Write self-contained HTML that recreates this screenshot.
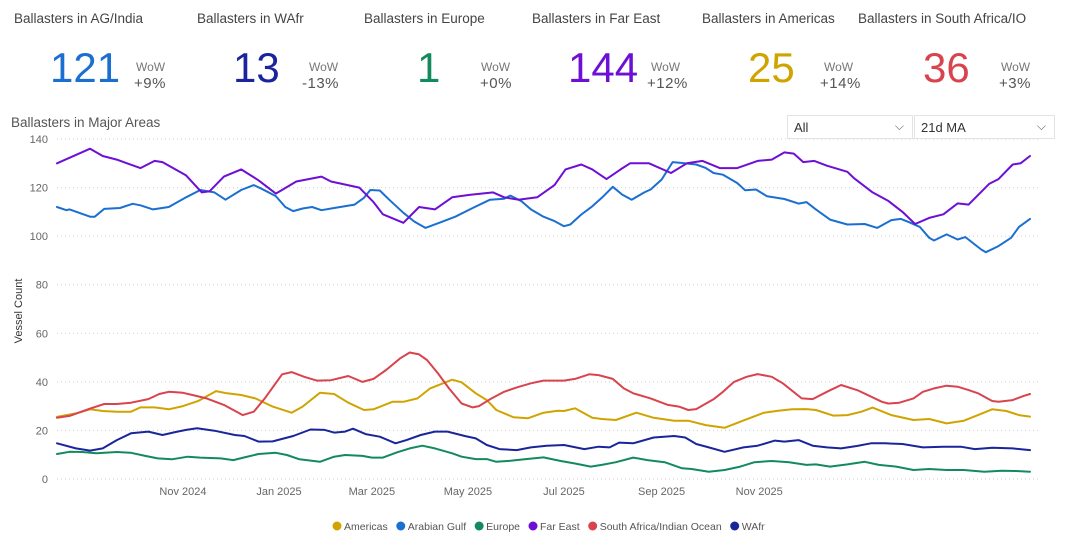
<!DOCTYPE html>
<html><head><meta charset="utf-8"><style>
body{margin:0;width:1070px;height:557px;background:#fff;font-family:"Liberation Sans",sans-serif;overflow:hidden;position:relative}
.kt{position:absolute;top:11px;font-size:13.5px;color:#444;white-space:nowrap}
.kv{position:absolute;top:44px;font-size:42px;line-height:48px;white-space:nowrap}
.kw{position:absolute;top:60px;font-size:12px;color:#777;line-height:14px}
.kp{position:absolute;top:75px;font-size:15px;color:#555;line-height:18px;letter-spacing:0.5px}
.dd{position:absolute;top:115px;height:24px;border:1px solid #e3e3e3;font-size:13px;color:#333;box-sizing:border-box;padding:4px 6px}
.dd span.ch{position:absolute;right:8px;top:3px;color:#666;font-size:12px}
</style></head><body>
<div class="kt" style="left:14px">Ballasters in AG/India</div>
<div class="kt" style="left:197px">Ballasters in WAfr</div>
<div class="kt" style="left:364px">Ballasters in Europe</div>
<div class="kt" style="left:532px">Ballasters in Far East</div>
<div class="kt" style="left:702px">Ballasters in Americas</div>
<div class="kt" style="left:858px">Ballasters in South Africa/IO</div>

<div class="kv" style="left:50px;color:#1a6fd1">121</div>
<div class="kv" style="left:233px;color:#1a259c">13</div>
<div class="kv" style="left:417px;color:#138a5e">1</div>
<div class="kv" style="left:568px;color:#6d0fd4">144</div>
<div class="kv" style="left:748px;color:#d0a400">25</div>
<div class="kv" style="left:923px;color:#d9434e">36</div>

<div class="kw" style="left:136px">WoW</div><div class="kp" style="left:134px">+9%</div>
<div class="kw" style="left:309px">WoW</div><div class="kp" style="left:302px">-13%</div>
<div class="kw" style="left:481px">WoW</div><div class="kp" style="left:480px">+0%</div>
<div class="kw" style="left:651px">WoW</div><div class="kp" style="left:647px">+12%</div>
<div class="kw" style="left:824px">WoW</div><div class="kp" style="left:820px">+14%</div>
<div class="kw" style="left:1001px">WoW</div><div class="kp" style="left:999px">+3%</div>

<div style="position:absolute;left:11px;top:115px;font-size:13.5px;color:#555">Ballasters in Major Areas</div>
<div class="dd" style="left:787px;width:126px">All<span class="ch">&#x2335;</span></div>
<div class="dd" style="left:914px;width:141px">21d MA<span class="ch">&#x2335;</span></div>

<svg id="chart" width="1070" height="557" style="position:absolute;left:0;top:0"></svg>
<script>
const yTicks=[0,20,40,60,80,100,120,140];
const xTickLabels=["Nov 2024","Jan 2025","Mar 2025","May 2025","Jul 2025","Sep 2025","Nov 2025"];
const xTickDays=[80,141,200,261,322,384,446];
const seriesNames=["Americas","Arabian Gulf","Europe","Far East","South Africa/Indian Ocean","WAfr"];
const seriesColors=["#d0a400","#1a6fd1","#138a5e","#6d0fd4","#d9434e","#1a259c"];
const farEastDays=[0,21,29,38,53,62,67,82,92,97,106,117,128,139,152,168,174,192,201,207,220,230,240,251,262,277,284,293,305,316,323,333,340,349,358,364,376,390,400,410,421,432,445,454,462,468,474,481,489,502,506,518,528,537,545,554,563,572,579,592,598,607,612,618];
const farEastVals=[130,136,133,131.5,128,131,130.5,125,118,118.5,124.5,127.5,123,117.5,122.5,124.5,122.5,120,114,109,105.5,112,111,116,117,118,116,115,116,121,127.5,129.5,127.5,123.5,127.5,130,130,126,130,131,128,128,131,131.5,134.5,134,130.5,131,129,126.5,124,118,114.5,110,105,107.5,109,113.5,113,121.5,123.5,129.5,130,133];
const gulfDays=[0,6,8,21,24,30,40,48,53,61,71,82,91,100,107,117,125,130,139,145,150,156,162,168,176,189,195,199,205,211,220,227,234,244,253,264,275,284,288,295,301,309,316,322,326,333,340,346,353,359,365,373,377,384,391,397,406,412,417,423,432,437,444,451,462,471,476,482,491,502,513,521,530,536,541,548,554,557,565,572,577,587,590,598,606,611,618];
const gulfVals=[112,110.7,111,108,108,111.2,111.6,113.3,112.7,111,112,116,119,118,115,119,121,119.5,116.5,112,110.3,111.4,112,110.7,111.6,113,115.8,119,118.8,115,109.6,106,103.4,105.8,108,111.6,115,115.4,116.7,114.4,111,108,106.2,104.1,104.8,108.9,112.3,115.8,120.3,117.1,115,118,119.2,123.3,130.5,130.1,129.5,128.1,126,125.3,121.9,118.9,119.2,116.4,115.3,113.4,114,111,106.8,104.8,105,103.4,106.6,107.1,105.8,103.8,99.3,98.2,100.7,98.6,99.6,94.5,93.4,95.9,99.3,103.8,107.1];
const saDays=[0,8,21,30,38,47,58,65,71,80,86,95,106,118,125,132,143,149,157,165,174,185,194,201,209,218,224,230,235,242,249,257,264,268,275,284,292,301,309,322,329,338,344,353,360,366,377,388,395,401,406,417,423,430,438,445,454,461,473,480,489,498,509,524,528,535,544,550,557,565,572,579,585,594,598,607,614,618];
const saVals=[25.2,26,29,30.9,30.9,31.4,32.9,35,35.9,35.5,34.6,33.2,30.5,26.3,27.7,33.2,43.1,44,42.1,40.5,40.7,42.4,40,41.2,44.9,49.7,52.1,51.3,49,43.5,37.3,31.1,29.5,30,32.8,35.9,37.7,39.4,40.5,40.5,41.2,43.1,42.8,41.2,37.3,35.3,33.2,30.5,29.8,28.4,28.8,32.8,35.9,40,42.1,43.2,42.1,39.4,33.2,32.9,35.9,38.7,36.4,31.8,31.1,31.4,33.2,35.9,37.3,38.4,38,36.6,35.3,32.1,31.8,32.5,34.2,35];
const amDays=[0,12,21,29,38,47,53,62,71,80,90,101,108,117,126,137,149,156,167,176,185,195,201,213,220,229,237,251,257,266,273,279,290,299,309,318,322,329,340,346,355,368,379,392,401,412,424,434,449,458,467,476,482,493,502,511,518,530,544,554,565,576,585,594,603,611,618];
const amVals=[25.6,27,28.7,28,27.7,27.7,29.5,29.5,28.7,30,32.2,36.2,35.3,34.6,33.2,29.8,27.3,29.8,35.5,35,31.4,28.4,28.7,31.8,31.8,33.2,37.3,40.9,39.8,35.3,32.5,28.4,25.4,25,27.3,28.1,28,29.1,25.2,24.7,24.3,27.3,25.2,24,24,22.2,21.1,23.6,27.3,28.1,28.7,28.8,28.4,26.1,26.3,27.7,29.4,26.3,24.3,24.7,22.9,24,26.3,28.7,28,26.3,25.7];
const wafrDays=[0,12,21,29,38,47,58,67,75,82,89,100,113,119,128,137,150,161,170,176,183,188,196,205,215,222,231,240,248,259,266,273,281,292,301,311,322,335,344,351,357,366,379,392,399,406,414,424,436,445,456,462,471,480,489,498,508,517,526,537,550,563,574,583,594,607,618];
const wafrVals=[14.7,12.6,11.7,12.6,16,18.8,19.5,18.1,19.3,20.2,20.9,19.9,18.1,17.7,15.4,15.5,17.7,20.4,20.2,19.1,19.5,20.7,18.5,17.4,14.7,16,18.1,19.5,19.5,17.7,16.7,14,12.3,11.9,13,13.7,14,12.3,13.3,13,15,14.7,17.1,17.7,17.1,14.4,13,11.2,13,13.7,15.8,15.4,16,13.7,13,12.6,13.6,14.7,14.7,14.4,13,13.3,13.3,12.3,12.9,12.6,11.9];
const euDays=[0,8,16,25,38,47,56,64,73,83,91,104,112,119,128,139,146,154,167,176,183,194,200,207,216,224,232,240,251,257,266,273,279,288,297,309,320,329,339,346,355,366,375,386,397,403,414,424,434,443,454,465,476,482,491,502,513,522,533,544,554,565,576,589,600,609,618];
const euVals=[10.3,11.2,11.1,10.6,11.1,10.8,9.5,8.5,8.1,9.2,8.8,8.5,7.8,8.9,10.3,10.8,9.9,8.1,7.1,9.2,9.9,9.5,8.8,8.8,11,12.6,13.7,12.6,10.6,9.2,8.2,8.2,7.1,7.5,8.1,8.9,7.4,6.4,5.1,5.8,6.9,8.8,7.8,6.9,4.4,4.1,3,3.7,5.1,6.9,7.4,6.9,5.8,6,5.1,6,7.1,5.8,5.1,3.7,4.1,3.7,3.7,3,3.4,3.3,3];

const svg=document.getElementById('chart');
const NS='http://www.w3.org/2000/svg';
const X0=57,X1=1030,D1=618,Y0=479,YMAX=140,YH=340;
function xs(d){return X0+d*(X1-X0)/D1;}
function ys(v){return Y0-v*YH/YMAX;}
function mk(tag,attrs){const e=document.createElementNS(NS,tag);for(const k in attrs)e.setAttribute(k,attrs[k]);svg.appendChild(e);return e;}
yTicks.forEach(t=>{
  const g=mk('line',{x1:57,x2:1040,y1:ys(t),y2:ys(t),stroke:'#d0d0d0','stroke-width':1,'stroke-dasharray':'1 3'});
  
  
  const l=mk('text',{x:48,y:ys(t)+4,'text-anchor':'end','font-size':11,fill:'#666','font-family':'Liberation Sans, sans-serif'});
  l.textContent=t;
  
  
});
xTickLabels.forEach((lab,i)=>{
  const l=mk('text',{x:xs(xTickDays[i]),y:495,'text-anchor':'middle','font-size':11,fill:'#666','font-family':'Liberation Sans, sans-serif'});
  l.textContent=lab;
  
  
});
const yt=mk('text',{x:0,y:0,transform:'translate(22,311) rotate(-90)','text-anchor':'middle','font-size':11,fill:'#333','font-family':'Liberation Sans, sans-serif'});
yt.textContent='Vessel Count';


const series=[[amDays,amVals],[gulfDays,gulfVals],[euDays,euVals],[farEastDays,farEastVals],[saDays,saVals],[wafrDays,wafrVals]];
[2,5,0,4,1,3].forEach(i=>{
  const [ds,vs]=series[i];
  const pts=ds.map((d,j)=>xs(d).toFixed(1)+','+ys(vs[j]).toFixed(1)).join(' ');
  const p=mk('polyline',{points:pts,fill:'none',stroke:seriesColors[i],'stroke-width':2,'stroke-linejoin':'round','stroke-linecap':'round'});
  
  
});
// legend
let lx=332;
seriesNames.forEach((n,i)=>{
  const c=mk('circle',{cx:lx+5,cy:526,r:4.5,fill:seriesColors[i]});
  
  
  const t=mk('text',{x:lx+12,y:530,'font-size':10.5,fill:'#555','font-family':'Liberation Sans, sans-serif'});
  t.textContent=n;
  
  
  lx+=12+t.getComputedTextLength()+8;
});
</script>
</body></html>
